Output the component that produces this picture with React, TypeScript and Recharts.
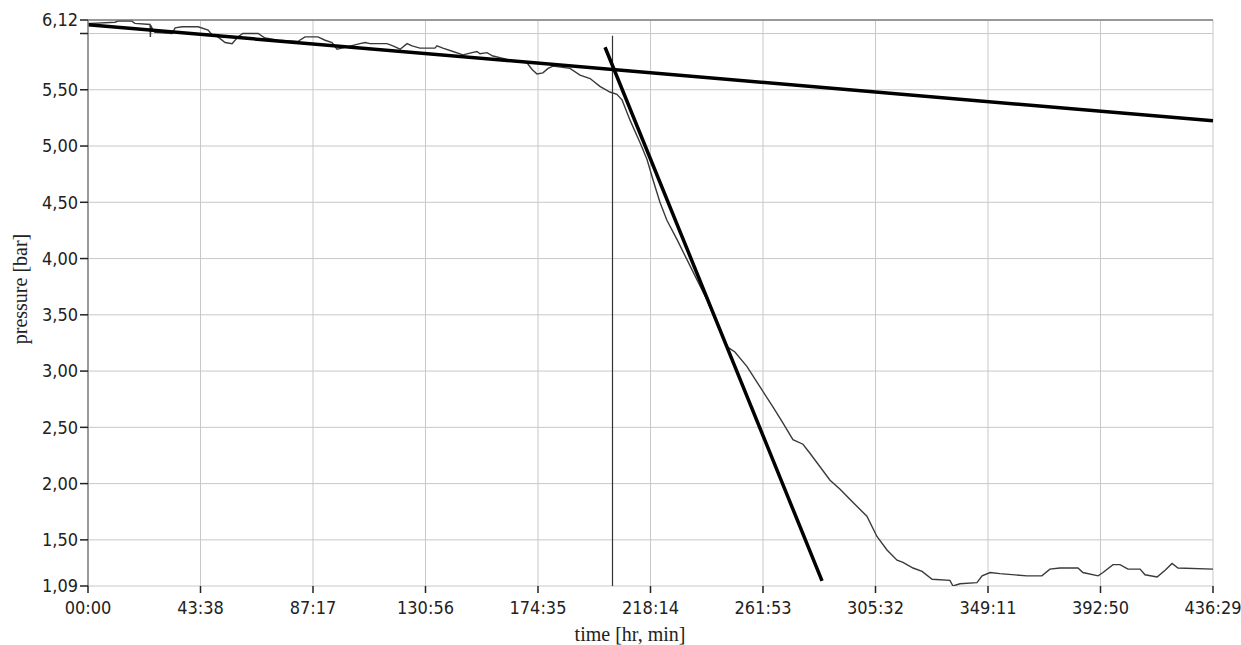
import { LineChart, Line, XAxis, YAxis, CartesianGrid, ReferenceLine, Label } from 'recharts';

// time in hours, pressure in bar
const measuredTime = [
  0, 1.4, 10.5, 11.6, 17.0, 18.2, 24.1, 24.2, 24.4, 25.2, 26.0, 32.6, 33.8, 36.5, 42.7, 46.6, 48.1, 50.4, 53.2, 55.9,
  58.2, 60.1, 66.0, 68.7, 73.7, 81.5, 84.2, 89.2, 92.0, 94.7, 96.6, 98.5, 105.5, 107.5, 109.4, 116.0, 118.3, 121.1, 123.8, 125.7,
  128.8, 134.6, 135.4, 137.7, 141.6, 145.5, 149.0, 150.9, 152.1, 154.8, 157.1, 162.6, 166.4, 170.3, 172.3, 174.2, 176.5, 178.5, 180.4, 187.0,
  190.9, 194.8, 198.6, 202.5, 205.2, 207.2, 210.3, 214.2, 216.9, 219.2, 221.9, 224.6, 228.5, 232.4, 236.3, 240.2, 244.4, 248.3, 251.0, 255.7,
  259.6, 265.8, 269.6, 273.5, 277.4, 280.1, 287.9, 291.8, 295.6, 302.2, 306.1, 310.0, 313.9, 316.2, 320.1, 323.6, 327.5, 334.4, 335.6, 338.3,
  344.9, 346.9, 350.0, 353.8, 364.3, 370.1, 373.2, 377.1, 384.1, 386.0, 391.9, 393.8, 397.7, 400.4, 403.5, 408.2, 410.1, 414.8, 417.9, 420.6,
  422.9, 436.48,
];
const measuredPressure = [
  6.09, 6.09, 6.10, 6.11, 6.11, 6.09, 6.08, 5.97, 6.07, 6.03, 6.01, 6.00, 6.05, 6.06, 6.06, 6.03, 5.99, 5.97, 5.92, 5.91,
  5.97, 6.00, 6.00, 5.96, 5.94, 5.93, 5.97, 5.97, 5.94, 5.92, 5.86, 5.87, 5.91, 5.92, 5.91, 5.91, 5.89, 5.86, 5.91, 5.89,
  5.87, 5.87, 5.89, 5.87, 5.84, 5.81, 5.83, 5.84, 5.82, 5.83, 5.80, 5.77, 5.75, 5.74, 5.68, 5.64, 5.65, 5.69, 5.71, 5.69,
  5.63, 5.60, 5.53, 5.48, 5.46, 5.41, 5.23, 5.03, 4.88, 4.70, 4.50, 4.34, 4.17, 3.99, 3.81, 3.63, 3.40, 3.21, 3.17, 3.04,
  2.90, 2.68, 2.54, 2.39, 2.35, 2.27, 2.03, 1.95, 1.86, 1.71, 1.53, 1.41, 1.32, 1.30, 1.25, 1.22, 1.15, 1.14, 1.09, 1.11,
  1.12, 1.18, 1.21, 1.20, 1.18, 1.18, 1.24, 1.25, 1.25, 1.21, 1.18, 1.21, 1.28, 1.28, 1.24, 1.24, 1.19, 1.17, 1.23, 1.29,
  1.25, 1.24,
];

const slowTrendTime = [0, 436.48];
const slowTrendPressure = [6.078, 5.224];

const fastTrendTime = [200.6, 284.8];
const fastTrendPressure = [5.878, 1.136];

const markerTime = [203.5, 203.5];
const markerPressure = [5.98, 1.09];

const xTicks = [0, 43.648, 87.297, 130.945, 174.593, 218.242, 261.89, 305.538, 349.187, 392.835, 436.483];
const xTickLabels = ['00:00', '43:38', '87:17', '130:56', '174:35', '218:14', '261:53', '305:32', '349:11', '392:50', '436:29'];
const yTicks = [1.09, 1.5, 2, 2.5, 3, 3.5, 4, 4.5, 5, 5.5, 6, 6.12];

const zip = (t: number[], p: number[]) => t.map((time, i) => ({ time, pressure: p[i] }));

const measured = zip(measuredTime, measuredPressure);
const slowTrend = zip(slowTrendTime, slowTrendPressure);
const fastTrend = zip(fastTrendTime, fastTrendPressure);
const marker = zip(markerTime, markerPressure);

const tickFont = "'DejaVu Sans Condensed', 'Liberation Sans', sans-serif";
const titleFont = "'Liberation Serif', 'DejaVu Serif', serif";

const formatY = (v: number) => (v === 6 ? '' : v.toFixed(2).replace('.', ','));

export default function App() {
  return (
    <div style={{ position: 'absolute', left: 0, top: 0, width: 1241, height: 645, background: '#fff' }}>
      <LineChart width={1241} height={645} margin={{ top: 20, right: 28, left: 0, bottom: 0 }}>
        <CartesianGrid stroke="#c8c8c8" strokeWidth={1} />
        <XAxis
          type="number"
          dataKey="time"
          domain={[0, 436.483]}
          ticks={xTicks}
          tickFormatter={(_v: number, i: number) => xTickLabels[i]}
          height={59}
          axisLine={false}
          tickSize={7}
          tickMargin={8}
          tickLine={{ stroke: '#222', strokeWidth: 1.5 }}
          tick={{ fill: '#222', fontSize: 18, fontFamily: tickFont }}
          interval={0}
        >
          <Label
            content={() => (
              <text x={630} y={641} textAnchor="middle" fontFamily={titleFont} fontSize={20} fill="#222">
                time [hr, min]
              </text>
            )}
          />
        </XAxis>
        <YAxis
          type="number"
          domain={[1.09, 6.12]}
          ticks={yTicks}
          tickFormatter={formatY}
          width={88}
          axisLine={{ stroke: '#808080', strokeWidth: 1.5 }}
          tickSize={8}
          tickMargin={2}
          tickLine={{ stroke: '#222', strokeWidth: 1.5 }}
          tick={{ fill: '#222', fontSize: 18, fontFamily: tickFont }}
          interval={0}
          allowDataOverflow
        >
          <Label
            content={() => (
              <text
                x={20}
                y={289}
                transform="rotate(-90 20 289)"
                textAnchor="middle"
                dominantBaseline="central"
                fontFamily={titleFont}
                fontSize={20}
                fill="#222"
              >
                pressure [bar]
              </text>
            )}
          />
        </YAxis>
        <ReferenceLine y={6.12} stroke="#808080" strokeWidth={1.5} />
        <Line data={measured} dataKey="pressure" type="linear" stroke="#3a3a3a" strokeWidth={1.4} dot={false} isAnimationActive={false} />
        <Line data={marker} dataKey="pressure" type="linear" stroke="#333" strokeWidth={1.2} dot={false} isAnimationActive={false} />
        <Line data={slowTrend} dataKey="pressure" type="linear" stroke="#000" strokeWidth={3.5} dot={false} isAnimationActive={false} />
        <Line data={fastTrend} dataKey="pressure" type="linear" stroke="#000" strokeWidth={3.5} dot={false} isAnimationActive={false} />
      </LineChart>
    </div>
  );
}
